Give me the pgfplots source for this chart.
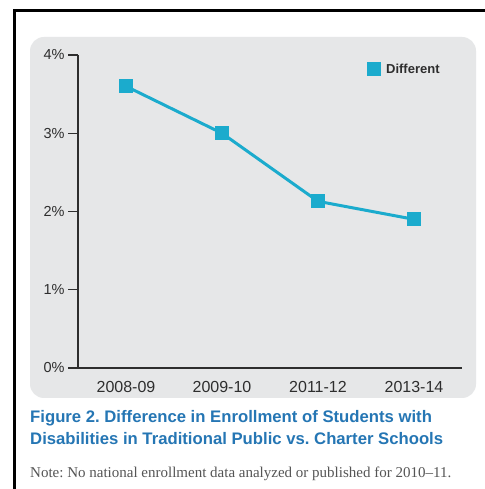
\documentclass[border=0pt]{standalone}
\usepackage{pgfplots}
\pgfplotsset{compat=1.18}
\usepackage{fontspec}
\setmainfont{Liberation Sans}
\newfontfamily\notefont{Liberation Serif}
\definecolor{panel}{HTML}{E6E7E8}
\definecolor{lineblue}{HTML}{1BABCD}
\definecolor{capblue}{HTML}{2576B4}
\definecolor{axisgray}{HTML}{2E2E2E}
\definecolor{notegray}{HTML}{555555}
\frenchspacing
\begin{document}
\begin{tikzpicture}[x=1pt,y=1pt]
\useasboundingbox (0,0) rectangle (484,489);
\fill[white] (0,0) rectangle (484,489);
\draw[line width=3pt] (14,0) -- (14,478.5) -- (485,478.5);
\fill[panel, rounded corners=14pt] (30,91) rectangle (476,452);
\begin{axis}[
  at={(78pt,121pt)}, anchor=south west,
  scale only axis, width=384pt, height=313pt,
  xmin=-0.5, xmax=3.5, ymin=0, ymax=4,
  axis lines*=left,
  axis line style={axisgray, line width=1.4pt},
  xtick={0,1,2,3},
  xticklabels={2008-09,2009-10,2011-12,2013-14},
  x tick style={draw=none},
  ytick={0,1,2,3,4},
  yticklabel={\pgfmathprintnumber{\tick}\%},
  y tick style={axisgray, line width=1.4pt},
  tick align=outside, major tick length=10pt,
  xticklabel style={font=\fontsize{16}{18}\selectfont, text=axisgray},
  yticklabel style={font=\fontsize{14.5}{16}\selectfont, text=axisgray},
  /pgf/number format/assume math mode=true,
  legend style={draw=none, fill=none, at={(axis cs:2.51,3.82)}, anchor=west,
    font=\fontsize{13}{15}\selectfont\bfseries, text=axisgray, inner sep=0pt},
  legend image code/.code={\fill[lineblue] (0pt,-5.5pt) rectangle (11pt,5.5pt);},
  legend cell align=left,
  legend style={/tikz/every even column/.append style={column sep=0pt}},
  clip=false,
]
\addplot[lineblue, line width=3pt, mark=square*, mark size=5.5pt, mark options={fill=lineblue, draw=none}]
  coordinates {(0,3.60) (1,3.00) (2,2.13) (3,1.90)};
\addlegendentry{\hspace{3pt}Different}
\end{axis}
\node[anchor=base west, inner sep=0pt, text=capblue, font=\fontsize{16.7}{20}\selectfont\bfseries] at (30,66) {Figure 2. Difference in Enrollment of Students with};
\node[anchor=base west, inner sep=0pt, text=capblue, font=\fontsize{16.7}{20}\selectfont\bfseries] at (30,44) {Disabilities in Traditional Public vs. Charter Schools};
\node[anchor=base west, inner sep=0pt, text=notegray, font=\fontsize{15}{17}\notefont] at (30,11) {Note: No national enrollment data analyzed or published for 2010–11.};
\end{tikzpicture}
\end{document}
